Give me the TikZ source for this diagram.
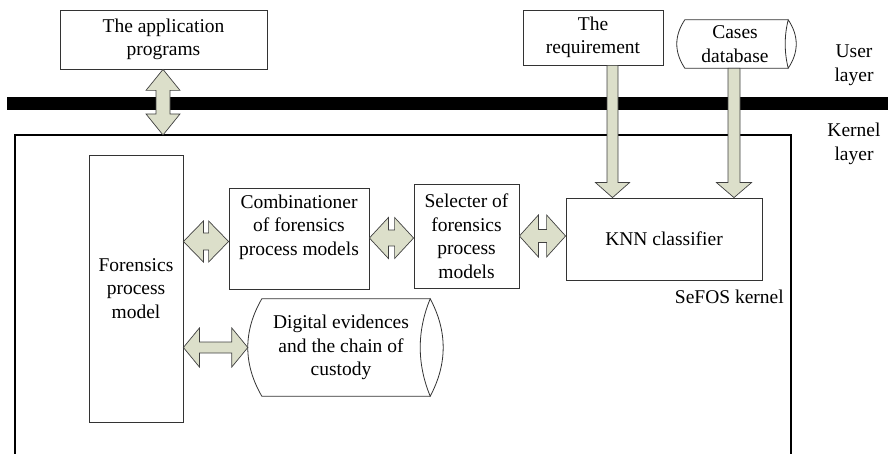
\documentclass[tikz,border=0pt]{standalone}
\usepackage{fontspec}
\setmainfont{Liberation Serif}
\newfontfamily\diagfont{Liberation Serif}
\usetikzlibrary{calc}
\definecolor{arrowfill}{HTML}{DCDFCA}
\definecolor{boxline}{HTML}{333333}
\tikzset{
  lbl/.style={font=\diagfont\fontsize{19.5}{23.5}\selectfont, align=center, inner sep=0pt},
  box/.style={lbl, draw=boxline, line width=0.8pt, fill=white},
  blockarrow/.style={draw=black!75, line width=0.7pt, fill=arrowfill, line join=miter},
  cyl/.style={draw=boxline, line width=0.8pt},
  layerbar/.style={fill=black},
  kernelframe/.style={draw=black, line width=2pt},
}
% horizontal double block arrow: left tip, right tip, half height, half shaft, head length
\newcommand{\dblharrow}[5]{%
  \draw[blockarrow] let \p1=(#1), \p2=(#2) in
    (\x1,\y1) -- (\x1+#5,\y1+#3) -- (\x1+#5,\y1+#4) -- (\x2-#5,\y1+#4)
    -- (\x2-#5,\y1+#3) -- (\x2,\y1) -- (\x2-#5,\y1-#3) -- (\x2-#5,\y1-#4)
    -- (\x1+#5,\y1-#4) -- (\x1+#5,\y1-#3) -- cycle;}
% vertical double block arrow: top tip, bottom tip, half width, half shaft, head length
\newcommand{\dblvarrow}[5]{%
  \draw[blockarrow] let \p1=(#1), \p2=(#2) in
    (\x1,\y1) -- (\x1+#3,\y1-#5) -- (\x1+#4,\y1-#5) -- (\x1+#4,\y2+#5)
    -- (\x1+#3,\y2+#5) -- (\x1,\y2) -- (\x1-#3,\y2+#5) -- (\x1-#4,\y2+#5)
    -- (\x1-#4,\y1-#5) -- (\x1-#3,\y1-#5) -- cycle;}
% downward block arrow: start, tip, half shaft, half head, head length
\newcommand{\downblockarrow}[5]{%
  \draw[blockarrow] let \p1=(#1), \p2=(#2) in
    (\x1-#3,\y1) -- (\x1+#3,\y1) -- (\x1+#3,\y2+#5) -- (\x1+#4,\y2+#5)
    -- (\x1,\y2) -- (\x1-#4,\y2+#5) -- (\x1-#3,\y2+#5) -- cycle;}

\begin{document}
\begin{tikzpicture}[x=1pt, y=-1pt]
\useasboundingbox (0,0) rectangle (888,454);

% layer separator and kernel frame
\fill[layerbar] (7,97) rectangle (888,110);
\draw[kernelframe] (15,454) -- (15,135) -- (791,135) -- (791,454);
\coordinate (ktop) at (163,135);

% user layer
\node[box, minimum width=207pt, minimum height=59pt] (app) at (163.5,39.5) {The application\\programs};
\node[box, minimum width=140pt, minimum height=55pt] (req) at (593,37.5) {The\\requirement};
\node[lbl, minimum width=100pt, minimum height=48pt] (db) at (735,44) {Cases\\database};
\draw[cyl] ([xshift=3pt]db.north east) -- (db.north west)
  .. controls ([xshift=-10.7pt,yshift=-16pt]db.north west) and ([xshift=-10.7pt,yshift=16pt]db.south west) .. (db.south west)
  -- ([xshift=3pt]db.south east);
\draw[cyl] ([xshift=3pt]db.north east)
  .. controls ([xshift=-1pt,yshift=-16pt]db.north east) and ([xshift=-1pt,yshift=16pt]db.south east) .. ([xshift=3pt]db.south east)
  .. controls ([xshift=13.7pt,yshift=16pt]db.south east) and ([xshift=13.7pt,yshift=-16pt]db.north east) .. cycle;

\node[lbl] (user) at (854,65) {User\\layer};
\node[lbl] (kern) at (854,144) {Kernel\\layer};

% kernel layer
\node[box, minimum width=94pt, minimum height=267pt] (fpm) at (136,288.5) {Forensics\\process\\model};
\node[box, minimum width=140pt, minimum height=101pt,
      label={[lbl, yshift=11.5pt]center:Combinationer\\of forensics\\process models}] (comb) at (299,238.5) {};
\node[box, minimum width=105pt, minimum height=104pt] (sel) at (466.5,236) {Selecter of\\forensics\\process\\models};
\node[box, minimum width=196pt, minimum height=82pt] (knn) at (664,239) {KNN classifier};
\node[lbl, anchor=east] (sefos) at (784,297) {SeFOS kernel};

\node[lbl, minimum width=158pt, minimum height=97pt] (dig) at (341,347.5) {Digital evidences\\and the chain of\\custody};
\draw[cyl] ([xshift=10pt]dig.north east) -- (dig.north west)
  .. controls ([xshift=-18.7pt,yshift=-32.3pt]dig.north west) and ([xshift=-18.7pt,yshift=32.3pt]dig.south west) .. (dig.south west)
  -- ([xshift=10pt]dig.south east);
\draw[cyl] ([xshift=10pt]dig.north east)
  .. controls ([xshift=-3.3pt,yshift=-32.3pt]dig.north east) and ([xshift=-3.3pt,yshift=32.3pt]dig.south east) .. ([xshift=10pt]dig.south east)
  .. controls ([xshift=27.3pt,yshift=32.3pt]dig.south east) and ([xshift=27.3pt,yshift=-32.3pt]dig.north east) .. cycle;
\coordinate (digL) at ([xshift=-14pt]dig.west);

% connector anchor points
\coordinate (reqOut) at ([xshift=19.5pt]req.south);
\coordinate (dbOut) at ([xshift=-1pt]db.south);

% connectors
\dblvarrow{app.south -| ktop}{ktop}{17pt}{7pt}{21pt}
\downblockarrow{reqOut}{knn.north -| reqOut}{5.5pt}{17pt}{15pt}
\downblockarrow{dbOut}{knn.north -| dbOut}{6pt}{17.5pt}{15pt}
\dblharrow{fpm.east |- 0,241.5}{comb.west |- 0,241.5}{20.5pt}{8.5pt}{20pt}
\dblharrow{comb.east |- 0,238}{sel.west |- 0,238}{20.5pt}{8pt}{19pt}
\dblharrow{sel.east |- 0,236}{knn.west |- 0,236}{21pt}{6.5pt}{19pt}
\dblharrow{fpm.east |- digL}{digL}{19.5pt}{5.5pt}{16pt}
\end{tikzpicture}
\end{document}
